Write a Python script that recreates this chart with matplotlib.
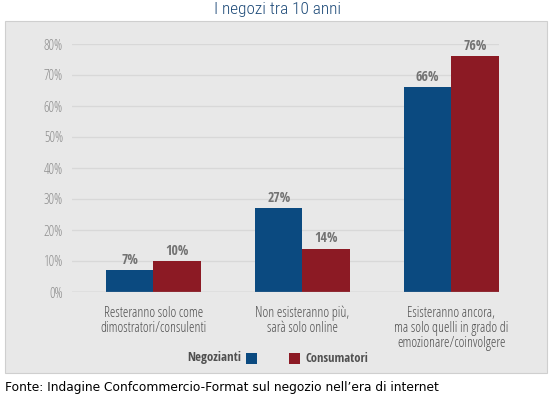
import matplotlib
matplotlib.use("Agg")
from matplotlib import pyplot as plt
from matplotlib.patches import Rectangle

categories = ["Resteranno solo come\ndimostratori/consulenti",
              "Non esisteranno più,\nsarà solo online",
              "Esisteranno ancora,\nma solo quelli in grado di\nemozionare/coinvolgere"]
negozianti = [7, 27, 66]
consumatori = [10, 14, 76]
yticks = [0, 10, 20, 30, 40, 50, 60, 70, 80]

W, H = 553, 394


def fx(px):
    return px / W


def fy(py):
    return 1 - py / H


# condensed fonts to get close to the original narrow typeface
light = dict(family="Open Sans", stretch="condensed", weight=300)
bold = dict(family="Open Sans Condensed", stretch="condensed", weight=700)

blue = "#0b4a80"
red = "#8c1a24"

fig = plt.figure(figsize=(W / 100, H / 100), dpi=100)
fig.patch.set_facecolor("white")

# grey panel behind the chart
fig.patches.append(Rectangle((fx(4.5), fy(372.5)), fx(542), 352 / H,
                             transform=fig.transFigure, facecolor="#e8e8e8",
                             edgecolor="#cfcfcf", linewidth=0.8, zorder=-5))

ax = fig.add_axes([fx(72), fy(292), fx(427), 248 / H])
ax.set_facecolor("none")
ax.set_zorder(2)

x = list(range(len(categories)))
w = 0.319
xn = [i - w / 2 for i in x]
xc = [i + w / 2 for i in x]
ax.bar(xn, negozianti, width=w, color=blue, zorder=3)
ax.bar(xc, consumatori, width=w, color=red, zorder=3)

for xi, v in zip(xn, negozianti):
    ax.annotate(f"{v}%", (xi, v), xytext=(0, 2.5), textcoords="offset points",
                ha="center", va="bottom", fontsize=10, color="#737373",
                **bold)
for xi, v in zip(xc, consumatori):
    ax.annotate(f"{v}%", (xi, v), xytext=(0, 2.5), textcoords="offset points",
                ha="center", va="bottom", fontsize=10, color="#737373",
                **bold)

ax.set_xlim(-0.547, 2.319)
ax.set_ylim(0, 80)
ax.set_yticks(yticks)
ax.set_yticklabels([f"{t}%" for t in yticks], fontsize=10, color="#8e8e8e",
                   **light)
ax.set_xticks(x)
ax.set_xticklabels(categories, fontsize=10, color="#505050",
                   linespacing=1.0, **light)
ax.tick_params(axis="y", length=0, pad=6.5)
ax.tick_params(axis="x", length=0, pad=10)
for s in ax.spines.values():
    s.set_visible(False)
for t in yticks[1:]:
    ax.axhline(t, color="#d8d8d8", linewidth=0.9, zorder=1)
ax.axhline(0, color="#a8a8a8", linewidth=0.9, zorder=4)

# title
fig.text(fx(278), fy(9.5), "I negozi tra 10 anni", ha="center", va="center",
         fontsize=12.4, color="#1d4a78", family="Roboto Condensed",
         stretch="condensed", weight=300)

# legend
fig.text(fx(241), fy(358), "Negozianti", ha="right", va="center",
         fontsize=9.3, color="#505050", **bold)
fig.patches.append(Rectangle((fx(246), fy(363.5)), fx(11), 11 / H,
                             transform=fig.transFigure, facecolor=blue,
                             edgecolor="none"))
fig.patches.append(Rectangle((fx(289), fy(363.5)), fx(11), 11 / H,
                             transform=fig.transFigure, facecolor=red,
                             edgecolor="none"))
fig.text(fx(305), fy(358), "Consumatori", ha="left", va="center",
         fontsize=9, color="#505050", **bold)

# source
fig.text(fx(5), fy(387), "Fonte: Indagine Confcommercio-Format sul negozio nell’era di internet",
         ha="left", va="center", fontsize=8.85, color="black",
         family="DejaVu Sans")

fig.savefig("out.png", dpi=100)
